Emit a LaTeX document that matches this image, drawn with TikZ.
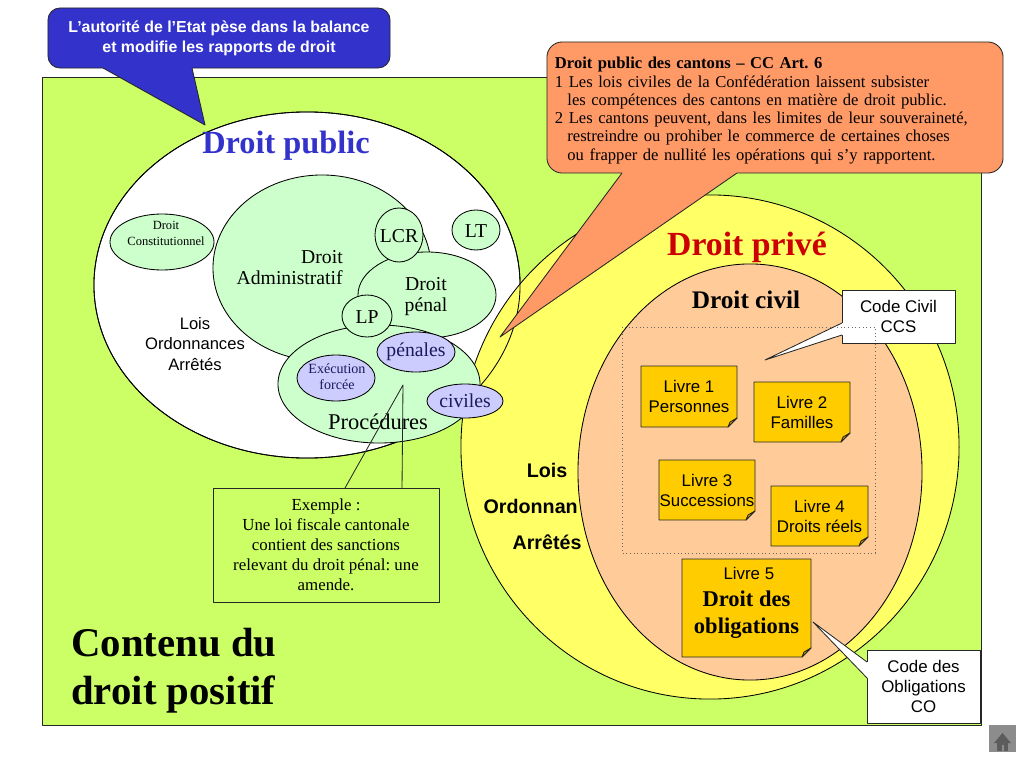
\documentclass[tikz,border=0pt]{standalone}
\usepackage{fontspec}
\setmainfont{Liberation Serif}
\setsansfont{Liberation Sans}
\usetikzlibrary{shapes.geometric}
\definecolor{bggreen}{HTML}{CCFF66}
\definecolor{callblue}{HTML}{3333CC}
\definecolor{pubblue}{HTML}{3333CC}
\definecolor{privred}{HTML}{CC0000}
\definecolor{yell}{HTML}{FFFF66}
\definecolor{peach}{HTML}{FFCC99}
\definecolor{gold}{HTML}{FFCC00}
\definecolor{golddark}{HTML}{D9A400}
\definecolor{lgreen}{HTML}{CCFFCC}
\definecolor{lav}{HTML}{CCCCFF}
\definecolor{corange}{HTML}{FF9966}
\definecolor{navytxt}{HTML}{1A1A5C}
\definecolor{edge}{HTML}{262626}
\definecolor{homegray}{HTML}{8C8C8C}
\definecolor{homedark}{HTML}{5C5C5C}
\frenchspacing
\newcommand{\fs}[2]{\fontsize{#1}{#2}\selectfont}
\newcommand{\livreshape}[4]{%
  \draw[boxline, fill=gold] (#1,#2) -- (#3,#2) -- (#3,#4-9) -- (#3-9,#4) -- (#1,#4) -- cycle;
  \filldraw[boxline, fill=golddark] (#3,#4-9) -- (#3-9,#4) -- (#3-7,#4-5) -- cycle;}
\begin{document}
\begin{tikzpicture}[x=0.025cm, y=-0.025cm, line join=round,
  boxline/.style={draw=edge, line width=0.6pt},
  ell/.style={ellipse, draw=black, line width=0.6pt, inner sep=0pt, outer sep=0pt},
  gell/.style={ell, fill=lgreen},
  pell/.style={ell, fill=lav},
  lbl/.style={inner sep=0pt, align=center},
  wbox/.style={rectangle, boxline, fill=white, inner sep=0pt, align=center, font=\sffamily\fs{12}{14.2}},
  livtxt/.style={inner sep=0pt, align=center, font=\sffamily\fs{12}{14.2}},
  ptr/.style={draw=edge, line width=0.6pt}]

\useasboundingbox (0,0) rectangle (1024,768);
\fill[white] (0,0) rectangle (1024,768);
\draw[boxline, fill=bggreen] (42,77) rectangle (981,725);

% blue callout
\node[rectangle, rounded corners=0.3cm, draw=edge, line width=0.6pt, fill=callblue,
  minimum width=8.55cm, minimum height=1.5cm, inner sep=0pt, align=center, text=white,
  font=\sffamily\bfseries\fs{11.3}{14.2}] (blue) at (219,38)
  {L’autorité de l’Etat pèse dans la balance\\et modifie les rapports de droit};
\coordinate (bb1) at (103,68);
\coordinate (bb2) at (192,68);
\coordinate (btip) at (205,125);
\fill[callblue] ([yshift=1.5pt]bb1) -- (bb1) -- (btip) -- (bb2) -- ([yshift=1.5pt]bb2) -- cycle;
\draw[ptr] (bb1) -- (btip) -- (bb2);

% big ellipses
\node[ell, fill=white, minimum width=10.65cm, minimum height=8.65cm] (pub) at (307,285) {};
\node[ell, fill=yell, minimum width=12.45cm, minimum height=12.6cm] (priv) at (710,447) {};
\draw[line width=0.6pt] (pub.center) ellipse [x radius=5.325cm, y radius=4.325cm];
\node[ell, fill=peach, minimum width=8.6cm, minimum height=10.4cm] (civ) at (750,472) {};

% public law ellipses
\node[gell, minimum width=2.6cm, minimum height=1.4cm] (const) at (162,242) {};
\node[gell, minimum width=5.45cm, minimum height=4.65cm] (admin) at (322,268) {};
\node[gell, minimum width=3.45cm, minimum height=2.15cm] (penal) at (427,295) {};
\node[gell, minimum width=1.2cm, minimum height=1.35cm] (lcr) at (399,235) {};
\node[gell, minimum width=1.2cm, minimum height=1.0cm] (lt) at (476,230) {};
\node[gell, minimum width=5.05cm, minimum height=2.95cm] (proc) at (379,384) {};
\node[gell, minimum width=1.25cm, minimum height=1.05cm] (lp) at (367,316) {};
\node[pell, minimum width=1.95cm, minimum height=1.0cm] (penales) at (416,352) {};
\node[pell, minimum width=1.95cm, minimum height=1.15cm] (exec) at (336,378) {};
\node[pell, minimum width=1.9cm, minimum height=0.85cm] (civiles) at (465,401) {};

% texts
\node[lbl, text=pubblue, font=\bfseries\fs{23}{27}] (tpub) at (286,146) {Droit public};
\node[lbl, text=privred, font=\bfseries\fs{24}{28}] (tpriv) at (747,247) {Droit privé};
\node[lbl, font=\bfseries\fs{18}{21}] (tciv) at (746,300) {Droit civil};
\node[lbl, font=\fs{8.9}{11.4}] (tconst) at (166,233) {Droit\\Constitutionnel};
\node[inner sep=0pt, align=right, anchor=east, font=\fs{14}{15}] (tadmin) at (343,268) {Droit\\Administratif};
\node[lbl, font=\fs{14}{15}] (tpenal) at (426,297) {Droit\\pénal};
\node[lbl, font=\fs{14}{15}] (tlcr) at (399,236) {LCR};
\node[lbl, font=\fs{14}{15}] (tlt) at (476,231) {LT};
\node[lbl, font=\fs{14}{15}] (tlp) at (367,317) {LP};
\node[lbl, text=navytxt, font=\fs{14}{15}] (tpenales) at (416,352) {pénales};
\node[lbl, text=navytxt, font=\fs{14}{15}] (tciviles) at (465,401) {civiles};
\node[lbl, text=navytxt, font=\fs{10}{11.4}] (texec) at (337,377) {Exécution\\forcée};
\node[lbl, font=\fs{16}{18}] (tproc) at (378,422) {Procédures};
\node[lbl, font=\sffamily\fs{11.8}{14.6}] (tlois) at (195,344) {Lois\\Ordonnances\\Arrêtés};

% orange callout
\node[rectangle, rounded corners=0.38cm, boxline, fill=corange, minimum width=11.4cm,
  minimum height=3.275cm, text width=11cm, inner xsep=0.2cm, inner ysep=0pt, align=left,
  font=\fs{11.8}{13}] (orng) at (775,107.5)
  {\rule{0pt}{12.5pt}\textbf{Droit public des cantons – CC Art. 6}\\
   1 Les lois civiles de la Confédération laissent subsister\\
   \hspace*{0.75em}les compétences des cantons en matière de droit public.\\
   2 Les cantons peuvent, dans les limites de leur souveraineté,\\
   \hspace*{0.75em}restreindre ou prohiber le commerce de certaines choses\\
   \hspace*{0.75em}ou frapper de nullité les opérations qui s’y rapportent.};
\coordinate (ob1) at (622,173);
\coordinate (ob2) at (737,173);
\coordinate (otip) at (500,337);
\fill[corange] ([yshift=1.5pt]ob1) -- (ob1) -- (otip) -- (ob2) -- ([yshift=1.5pt]ob2) -- cycle;
\draw[ptr] (ob1) -- (otip) -- (ob2);

% example box
\node[rectangle, draw=edge, line width=0.6pt, minimum width=5.65cm, minimum height=2.85cm,
  inner sep=0pt, align=center, font=\fs{12}{14.2}] (ex) at (326,545)
  {Exemple :\\Une loi fiscale cantonale\\contient des sanctions\\relevant du droit pénal: une\\amende.};
\coordinate (ea1) at (345,488);
\coordinate (ea2) at (402,488);
\coordinate (etip) at (403,385);
\draw[ptr] (ea1) -- (etip) -- (ea2);

% Code Civil callout
\node[wbox, minimum width=2.825cm, minimum height=1.325cm] (ccs) at (898.5,316.5) {Code Civil\\CCS};
\coordinate (cb1) at (842,323);
\coordinate (cb2) at (842,335);
\coordinate (ctip) at (765,360);
\fill[white] ([xshift=1.5pt]cb1) -- (cb1) -- (ctip) -- (cb2) -- ([xshift=1.5pt]cb2) -- cycle;
\draw[ptr] (cb1) -- (ctip) -- (cb2);

% dotted frame
\draw[dotted, line width=0.6pt, draw=black!60] (622,327) rectangle (875,553);

% Livre boxes
\livreshape{641}{366}{737}{427}
\node[livtxt] (l1) at (689,396.5) {Livre 1\\Personnes};
\livreshape{754}{382}{850}{442}
\node[livtxt] (l2) at (802,412) {Livre 2\\Familles};
\livreshape{659}{460}{755}{520}
\node[livtxt] (l3) at (707,490) {Livre 3\\Successions};
\livreshape{771}{486}{868}{546}
\node[livtxt] (l4) at (819.5,516) {Livre 4\\Droits réels};
\livreshape{682}{559}{811}{657}
\node[inner sep=0pt, align=center, font=\bfseries\fs{16}{19}] (l5) at (746.5,603)
  {{\sffamily\mdseries\fs{12}{14} Livre 5}\\Droit des\\obligations};

% Code des Obligations callout
\node[wbox, minimum width=2.825cm, minimum height=1.825cm] (co) at (923.5,686.5) {Code des\\Obligations\\CO};
\coordinate (kb1) at (867,662);
\coordinate (kb2) at (867,678);
\coordinate (ktip) at (813,622);
\fill[white] ([xshift=1.5pt]kb1) -- (kb1) -- (ktip) -- (kb2) -- ([xshift=1.5pt]kb2) -- cycle;
\draw[ptr] (kb1) -- (ktip) -- (kb2);

% right-side sources
\node[lbl, font=\sffamily\bfseries\fs{14}{16}] (rlois) at (547,470) {Lois};
\node[inner sep=0pt, anchor=east, font=\sffamily\bfseries\fs{14}{16}] (rord) at (578,506) {Ordonnan};
\node[lbl, font=\sffamily\bfseries\fs{14}{16}] (rarr) at (547,542) {Arrêtés};

% title
\node[anchor=north west, inner sep=0pt, align=left, font=\bfseries\fs{29}{34}] (cont) at (71,628)
  {Contenu du\\droit positif};

% home icon
\node[rectangle, fill=homegray, minimum width=0.675cm, minimum height=0.675cm, inner sep=0pt] (home) at (1002.5,738.5) {};
\fill[homedark] (994,743) -- (1002.5,733) -- (1011,743) -- cycle;
\fill[homedark] (997,742) rectangle (1008,751);
\fill[homegray] (1002,745) rectangle (1003.5,751);
\end{tikzpicture}
\end{document}
